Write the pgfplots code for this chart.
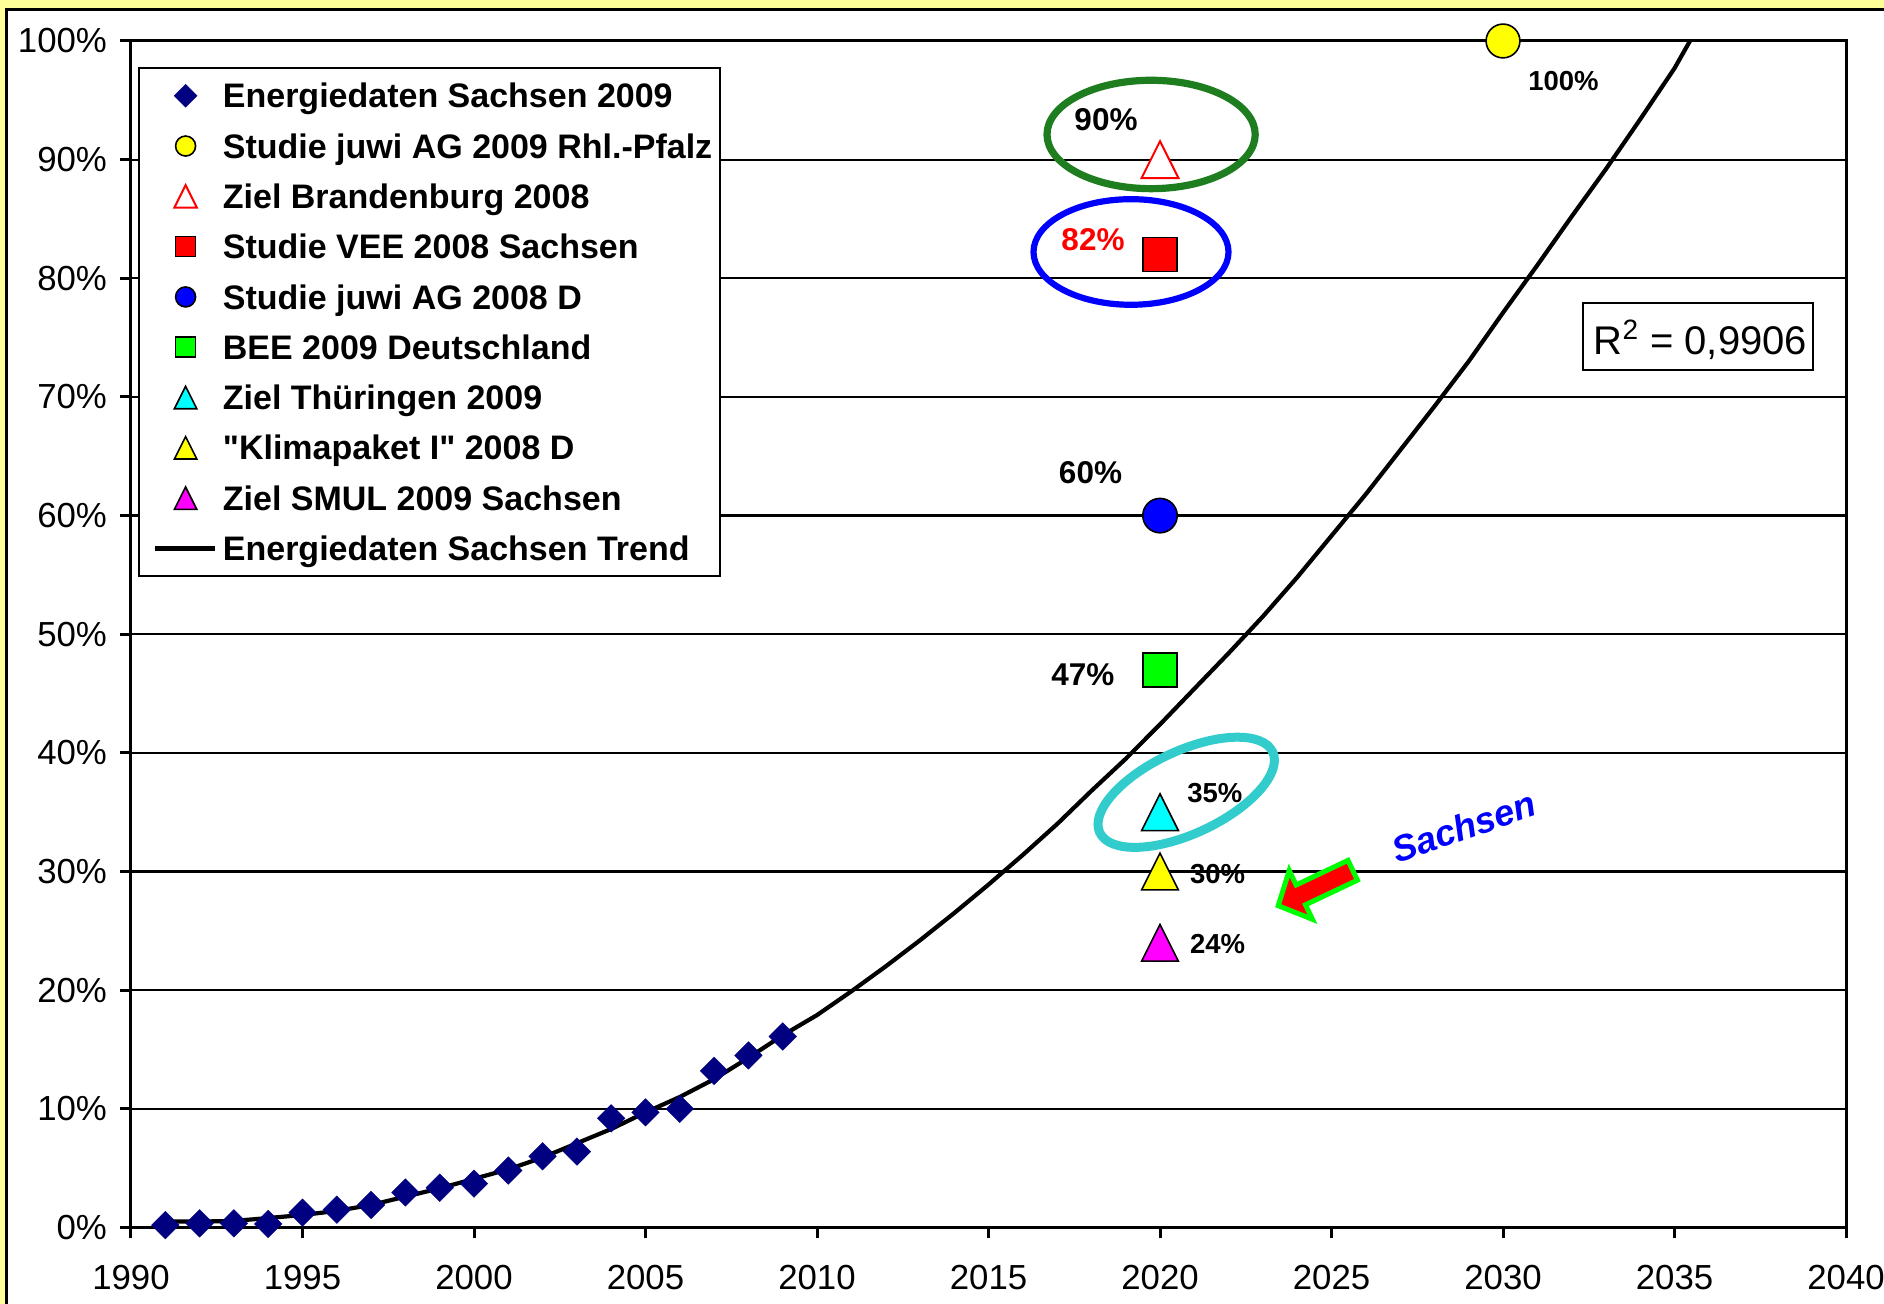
\documentclass[border=0pt]{standalone}
\usepackage{pgfplots}
\pgfplotsset{compat=1.18}
\usepackage{fontspec}
\setmainfont{Liberation Sans}[Ligatures=TeXOff]

\definecolor{bgyellow}{RGB}{255,255,153}
\definecolor{navydia}{RGB}{0,0,128}
\definecolor{ringgreen}{RGB}{30,125,30}
\definecolor{ringteal}{RGB}{51,204,204}
\definecolor{arrowgreen}{RGB}{0,255,0}
\definecolor{mkred}{RGB}{255,0,0}
\definecolor{mkblue}{RGB}{0,0,255}
\definecolor{mkgreen}{RGB}{0,255,0}
\definecolor{mkyellow}{RGB}{255,255,0}
\definecolor{mkcyan}{RGB}{0,255,255}
\definecolor{mkmagenta}{RGB}{255,0,255}

% square diamond and isosceles triangle, both scaled by the mark size
\pgfdeclareplotmark{sqdiamond*}{%
  \pgfpathmoveto{\pgfqpoint{0pt}{\pgfplotmarksize}}%
  \pgfpathlineto{\pgfqpoint{\pgfplotmarksize}{0pt}}%
  \pgfpathlineto{\pgfqpoint{0pt}{-\pgfplotmarksize}}%
  \pgfpathlineto{\pgfqpoint{-\pgfplotmarksize}{0pt}}%
  \pgfpathclose
  \pgfusepathqfillstroke}
\pgfdeclareplotmark{isotri*}{%
  \pgfpathmoveto{\pgfqpoint{0pt}{\pgfplotmarksize}}%
  \pgfpathlineto{\pgfqpoint{\pgfplotmarksize}{-\pgfplotmarksize}}%
  \pgfpathlineto{\pgfqpoint{-\pgfplotmarksize}{-\pgfplotmarksize}}%
  \pgfpathclose
  \pgfusepathqfillstroke}

\pgfplotsset{
  legmark/.style={legend image code/.code={%
      \path (0pt,0pt) (36pt,0pt);
      \draw[##1, mark size=#1] plot coordinates {(18.4pt,0pt)};}},
  legline/.style={legend image code/.code={%
      \path (0pt,0pt) (36pt,0pt);
      \draw[##1] (3.3pt,0pt) -- (33.3pt,0pt);}},
}

\begin{document}
\begin{tikzpicture}
\useasboundingbox (0,0) rectangle (942pt,652pt);
\fill[bgyellow] (0,0) rectangle (942pt,652pt);
\fill[white] (3.25pt,0) rectangle (942pt,647.25pt);
\draw[line width=1.5pt] (3.25pt,0) -- (3.25pt,647.25pt) -- (942pt,647.25pt);

\begin{axis}[
  at={(65.5pt,38.25pt)}, anchor=south west,
  scale only axis, width=857.5pt, height=593.25pt,
  xmin=1990, xmax=2040, ymin=0, ymax=100,
  xtick={1990,1995,2000,2005,2010,2015,2020,2025,2030,2035,2040},
  xticklabels={1990,1995,2000,2005,2010,2015,2020,2025,2030,2035,2040},
  ytick={0,10,20,30,40,50,60,70,80,90,100},
  yticklabels={0\%,10\%,20\%,30\%,40\%,50\%,60\%,70\%,80\%,90\%,100\%},
  tick pos=left, tick align=outside,
  major tick length=5.5pt,
  every tick/.style={black, line width=1.5pt},
  axis line style={line width=1.5pt},
  ymajorgrids, grid style={black, line width=1.1pt},
  ticklabel style={font=\fontsize{17.4}{20}\selectfont},
  xticklabel style={yshift=-10pt},
  yticklabel style={xshift=-3pt},
  clip=false,
  legend cell align=left,
  legend style={
    at={(rel axis cs:0,1)}, anchor=north west, xshift=3.4pt, yshift=-12.9pt,
    draw=black, line width=1.2pt, fill=white,
    inner xsep=3.85pt, inner ysep=1.3pt,
    font=\fontsize{17}{20}\bfseries\selectfont,
    row sep=0pt,
    nodes={inner xsep=0pt, inner ysep=0pt, text height=18.65pt, text depth=6.5pt},
  },
]

\addplot[only marks, mark=sqdiamond*, mark size=6.9pt,
  mark options={fill=navydia, draw=navydia, line width=0.2pt}, legmark=5.75pt]
  coordinates {
  (1991,0.2) (1992,0.35) (1993,0.35) (1994,0.3) (1995,1.25) (1996,1.5)
  (1997,1.9) (1998,2.95) (1999,3.35) (2000,3.7) (2001,4.8) (2002,6.0)
  (2003,6.4) (2004,9.2) (2005,9.7) (2006,10.0) (2007,13.2) (2008,14.5)
  (2009,16.1)};
\addlegendentry{Energiedaten Sachsen 2009}

\addplot[only marks, mark=*, mark size=8.45pt,
  mark options={fill=mkyellow, draw=black, line width=0.8pt}, legmark=5pt]
  coordinates {(2030,100)};
\addlegendentry{Studie juwi AG 2009 Rhl.-Pfalz}

\addplot[only marks, mark=isotri*, mark size=9.2pt,
  mark options={fill=white, draw=mkred, line width=1pt}, legmark=5.6pt]
  coordinates {(2020,90)};
\addlegendentry{Ziel Brandenburg 2008}

\addplot[only marks, mark=square*, mark size=8.5pt,
  mark options={fill=mkred, draw=black, line width=0.8pt}, legmark=5pt]
  coordinates {(2020,82)};
\addlegendentry{Studie VEE 2008 Sachsen}

\addplot[only marks, mark=*, mark size=8.6pt,
  mark options={fill=mkblue, draw=black, line width=0.8pt}, legmark=5pt]
  coordinates {(2020,60)};
\addlegendentry{Studie juwi AG 2008 D}

\addplot[only marks, mark=square*, mark size=8.5pt,
  mark options={fill=mkgreen, draw=black, line width=0.8pt}, legmark=5pt]
  coordinates {(2020,47)};
\addlegendentry{BEE 2009 Deutschland}

\addplot[only marks, mark=isotri*, mark size=9.2pt,
  mark options={fill=mkcyan, draw=black, line width=0.8pt}, legmark=5.6pt]
  coordinates {(2020,35)};
\addlegendentry{Ziel Thüringen 2009}

\addplot[only marks, mark=isotri*, mark size=9.2pt,
  mark options={fill=mkyellow, draw=black, line width=0.8pt}, legmark=5.6pt]
  coordinates {(2020,30)};
\addlegendentry{"Klimapaket I" 2008 D}

\addplot[only marks, mark=isotri*, mark size=9.2pt,
  mark options={fill=mkmagenta, draw=black, line width=0.8pt}, legmark=5.6pt]
  coordinates {(2020,24)};
\addlegendentry{Ziel SMUL 2009 Sachsen}

\addplot[black, line width=2.1pt, mark=none, line join=round, legline]
  coordinates {
  (1991,0.5) (1992,0.5) (1993,0.55) (1994,0.8) (1995,1.05) (1996,1.4)
  (1997,1.9) (1998,2.6) (1999,3.3) (2000,4.1) (2001,4.9) (2002,5.9)
  (2003,7.1) (2004,8.3) (2005,9.7) (2006,11.0) (2007,12.5) (2008,14.3)
  (2009,16.2) (2010,17.9) (2011,19.9) (2012,22.0) (2013,24.2) (2014,26.5)
  (2015,28.9) (2016,31.4) (2017,34.0) (2018,36.8) (2019,39.5) (2020,42.4)
  (2021,45.4) (2022,48.4) (2023,51.5) (2024,54.8) (2025,58.3) (2026,61.8)
  (2027,65.5) (2028,69.2) (2029,73.0) (2030,77.1) (2031,81.1) (2032,85.2)
  (2033,89.2) (2034,93.4) (2035,97.7) (2035.45,100)};
\addlegendentry{Energiedaten Sachsen Trend}
\end{axis}

% annotations, in pixel units measured from the top left corner
\begin{scope}[shift={(0pt,652pt)}, x=0.5pt, y=-0.5pt]
  \draw[ringgreen, line width=3.6pt] (1151.1,134.5) ellipse [x radius=104.1, y radius=54.2];
  \draw[mkblue, line width=3.1pt] (1131,252) ellipse [x radius=97.5, y radius=52.8];
  \draw[ringteal, line width=4.5pt, rotate around={25:(1186.2,792.3)}]
    (1186.2,792.3) ellipse [x radius=95.4, y radius=41.4];

  \filldraw[fill=mkred, draw=arrowgreen, line width=2.5pt, line join=miter]
    (1348.0,860.4) -- (1296.1,885.0) -- (1289.2,870.5) -- (1278.2,905.7)
    -- (1312.4,919.3) -- (1305.5,904.8) -- (1357.4,880.2) -- cycle;

  \begin{scope}[every node/.style={inner sep=0pt}]
    \node[font=\fontsize{13.75}{16}\bfseries\selectfont] at (1563.4,81.2) {100\%};
    \node[font=\fontsize{15.75}{18}\bfseries\selectfont] at (1106,119.5) {90\%};
    \node[font=\fontsize{15.75}{18}\bfseries\selectfont, text=mkred] at (1093,239.2) {82\%};
    \node[font=\fontsize{15.75}{18}\bfseries\selectfont] at (1090.5,472.3) {60\%};
    \node[font=\fontsize{15.75}{18}\bfseries\selectfont] at (1082.9,674.2) {47\%};
    \node[font=\fontsize{13.75}{16}\bfseries\selectfont] at (1214.9,793.2) {35\%};
    \node[font=\fontsize{13.75}{16}\bfseries\selectfont] at (1217.6,873.6) {30\%};
    \node[font=\fontsize{13.75}{16}\bfseries\selectfont] at (1217.6,944.4) {24\%};

    \node[rotate=19, text=mkblue, font=\fontsize{18.2}{21}\bfseries\itshape\selectfont]
      at (1464,826.7) {Sachsen};
  \end{scope}

  \draw[line width=1pt, fill=white] (1583.4,303.3) rectangle (1813.4,370);
  \node[anchor=base, inner sep=0pt, font=\fontsize{20}{24}\selectfont]
    at (1700.4,355) {R\textsuperscript{2} = 0,9906};
\end{scope}
\end{tikzpicture}
\end{document}
